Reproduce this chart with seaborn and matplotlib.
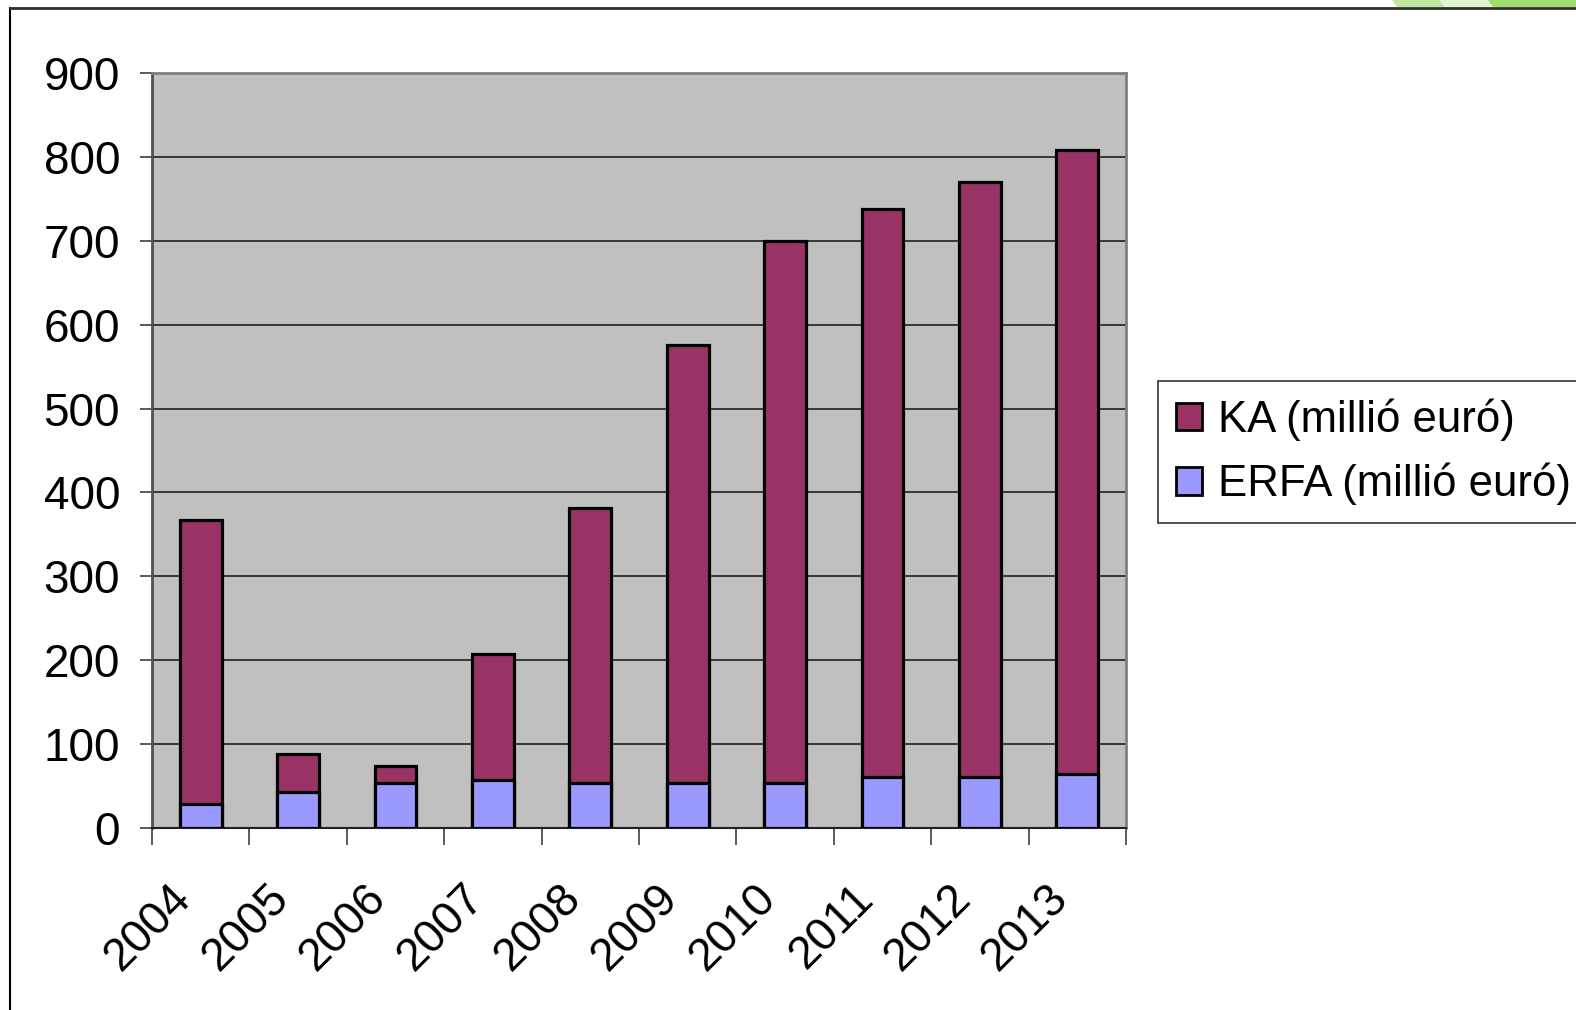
import matplotlib
matplotlib.use("Agg")
import matplotlib.pyplot as plt
import matplotlib.transforms as mtransforms
from matplotlib.patches import Patch, Polygon
from matplotlib.lines import Line2D
import seaborn as sns
import pandas as pd
import numpy as np

years = ["2004", "2005", "2006", "2007", "2008", "2009", "2010", "2011", "2012", "2013"]
erfa = [29, 43, 54, 57, 54, 54, 54, 61, 61, 64]
ka = [338, 45, 20, 150, 327, 522, 646, 677, 709, 744]
y_ticks = [0, 100, 200, 300, 400, 500, 600, 700, 800, 900]
ka_label = "KA (millió euró)"
erfa_label = "ERFA (millió euró)"

KA_COLOR = "#993366"
ERFA_COLOR = "#9999FF"

df = pd.DataFrame({"year": years, "erfa": erfa, "ka": ka})
df["total"] = df["erfa"] + df["ka"]

plt.rcParams["font.family"] = ["Liberation Sans", "DejaVu Sans"]

W, H = 1576, 1010
fig = plt.figure(figsize=(W / 100, H / 100), dpi=100)
fig.patch.set_facecolor("white")

ax = fig.add_axes([152 / W, 1 - 828 / H, (1126 - 152) / W, (828 - 73) / H])
ax.set_facecolor("#C0C0C0")

sns.barplot(data=df, x="year", y="total", color=KA_COLOR, width=0.43,
            edgecolor="black", linewidth=2.3, saturation=1, ax=ax, zorder=3)
sns.barplot(data=df, x="year", y="erfa", color=ERFA_COLOR, width=0.43,
            edgecolor="black", linewidth=2.3, saturation=1, ax=ax, zorder=4)

ax.set_xlim(-0.5, len(years) - 0.5)
ax.set_ylim(0, 900)
ax.set_yticks(y_ticks)
ax.set_yticklabels([str(v) for v in y_ticks], fontsize=33)
ax.set_xlabel("")
ax.set_ylabel("")

ax.yaxis.grid(True, color="#202020", linewidth=1.2, zorder=1)
ax.xaxis.grid(False)
ax.set_axisbelow(True)

# x ticks: labels at centers, tick marks at category boundaries
ax.set_xticks(range(len(years)))
ax.set_xticklabels(years, fontsize=33, rotation=45, ha="right", va="center",
                   rotation_mode="anchor")
ax.set_xticks(np.arange(-0.5, len(years)), minor=True)
ax.tick_params(axis="x", which="major", length=0, pad=46)
ax.tick_params(axis="x", which="minor", length=12, width=1.2, color="#404040")
ax.tick_params(axis="y", length=9, width=1.2, color="#404040", pad=14)
offset = mtransforms.ScaledTranslation(-16 / 100, 0, fig.dpi_scale_trans)
for lbl in ax.get_xticklabels():
    lbl.set_transform(lbl.get_transform() + offset)

for side in ["top", "right"]:
    ax.spines[side].set_color("#808080")
    ax.spines[side].set_linewidth(2)
ax.spines["left"].set_color("#505050")
ax.spines["left"].set_linewidth(2)
ax.spines["bottom"].set_color("#202020")
ax.spines["bottom"].set_linewidth(1.5)

handles = [Patch(facecolor=KA_COLOR, edgecolor="black", linewidth=2, label=ka_label),
           Patch(facecolor=ERFA_COLOR, edgecolor="black", linewidth=2, label=erfa_label)]
leg = fig.legend(handles=handles, loc="upper left",
                 bbox_to_anchor=(1158 / W, 1 - 381 / H), bbox_transform=fig.transFigure,
                 fontsize=31.5, frameon=True, fancybox=False, shadow=False,
                 handlelength=0.6, handleheight=0.6, handletextpad=0.36,
                 borderpad=0.4, labelspacing=0.5, borderaxespad=0)
leg.get_frame().set_edgecolor("black")
leg.get_frame().set_linewidth(1.2)

# slide frame lines
fig.add_artist(Line2D([10 / W, 10 / W], [0, 1 - 8 / H], color="black", linewidth=1.5,
                      transform=fig.transFigure))
fig.add_artist(Line2D([10 / W, 1], [1 - 8 / H, 1 - 8 / H], color="#303030", linewidth=2,
                      transform=fig.transFigure))

# decorative green stripes at top right
def stripe(x0, x1, color):
    pts = [(x0 / W, 1.0), (x1 / W, 1.0), ((x1 + 5) / W, 1 - 7 / H), ((x0 + 5) / W, 1 - 7 / H)]
    fig.add_artist(Polygon(pts, closed=True, facecolor=color, edgecolor="none",
                           transform=fig.transFigure, zorder=0))

stripe(1392, 1440, "#C0E8A0")
stripe(1440, 1488, "#E0F4D0")
stripe(1488, 1600, "#A0DC6C")

fig.savefig("out.png", dpi=100)
